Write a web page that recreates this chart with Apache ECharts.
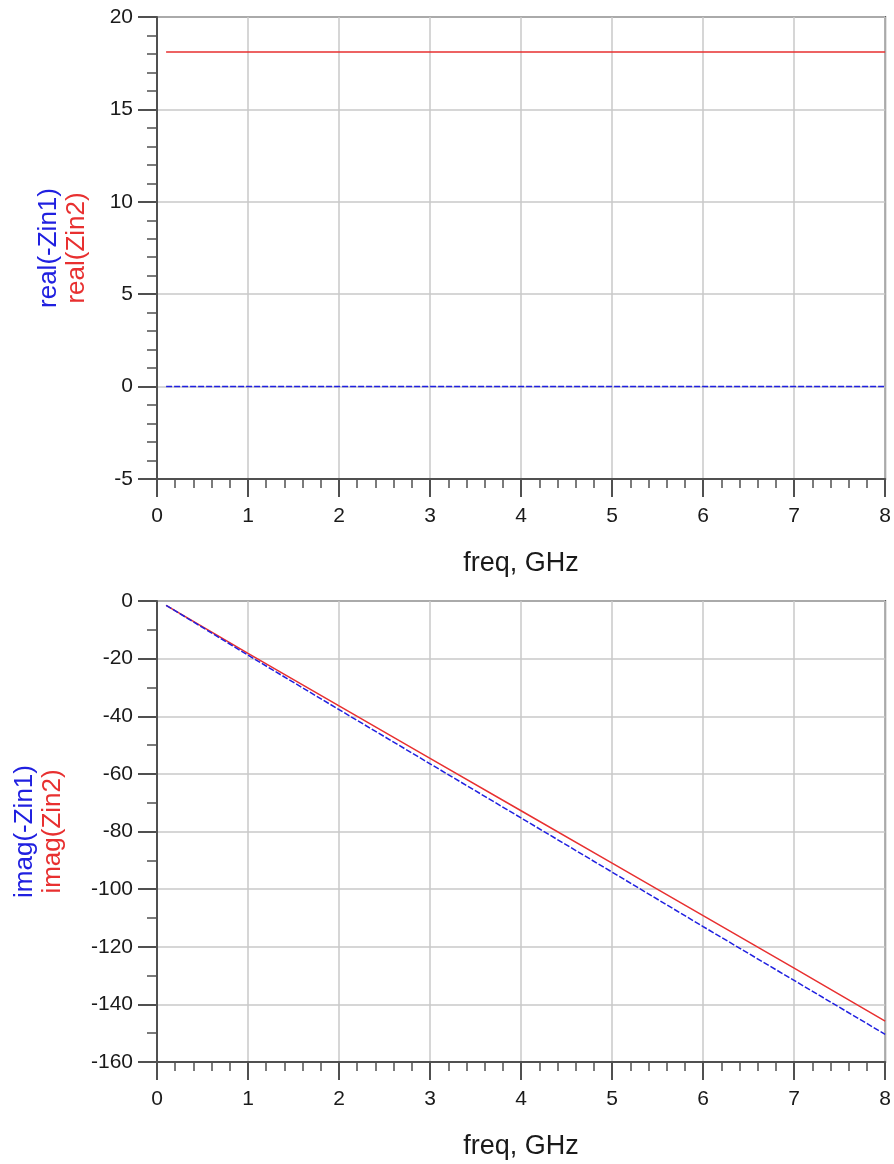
<!DOCTYPE html>
<html>
<head>
<meta charset="utf-8">
<script src="https://cdn.jsdelivr.net/npm/echarts@6/dist/echarts.min.js"></script>
<style>
  html, body { margin: 0; padding: 0; background: #fff; }
  #main { width: 894px; height: 1164px; }
</style>
</head>
<body>
<div id="main"></div>
<script>
// data
const freq = [0.1, 1, 2, 3, 4, 5, 6, 7, 8];
const realZin1 = [0, 0, 0, 0, 0, 0, 0, 0, 0];          // real(-Zin1)
const realZin2 = [18.1, 18.1, 18.1, 18.1, 18.1, 18.1, 18.1, 18.1, 18.1]; // real(Zin2)
const imagZin1 = [-1.5, -18.8, -37.7, -56.5, -75.3, -94.1, -113.0, -131.7, -150.4];
const imagZin2 = [-1.5, -18.2, -36.4, -54.6, -72.8, -91.0, -109.2, -127.4, -145.8];
const xTicks = { min: 0, max: 8, interval: 1 };
const topY = { min: -5, max: 20, interval: 5 };
const botY = { min: -160, max: 0, interval: 20 };

const pairs = (xs, ys) => xs.map((x, i) => [x, ys[i]]);

const font = 'Liberation Sans, Arial, sans-serif';
const axisCol = '#505050';
const gridCol = '#c8c8c8';
const blue = '#2020e0';
const red = '#e83030';

function xAxis(idx) {
  return {
    gridIndex: idx, type: 'value',
    min: xTicks.min, max: xTicks.max, interval: xTicks.interval,
    name: 'freq, GHz', nameLocation: 'middle', nameGap: 71,
    nameTextStyle: { fontFamily: font, fontSize: 27, color: '#1a1a1a' },
    axisLine: { show: true, onZero: false, lineStyle: { color: axisCol, width: 2 } },
    axisTick: { show: true, length: 18, lineStyle: { color: axisCol, width: 2 } },
    minorTick: { show: true, splitNumber: 5, length: 9, lineStyle: { color: axisCol, width: 1.5 } },
    axisLabel: { fontFamily: font, fontSize: 21, color: '#1a1a1a', margin: 27 },
    splitLine: { show: true, lineStyle: { color: gridCol, width: 1.5 } }
  };
}

function yAxis(idx, rng, minorSplit, l1, l2, gap) {
  return {
    gridIndex: idx, type: 'value',
    min: rng.min, max: rng.max, interval: rng.interval,
    name: '{b|' + l1 + '}\n{r|' + l2 + '}',
    nameLocation: 'middle', nameGap: gap, nameRotate: 90, nameMoveOverlap: false,
    nameTextStyle: {
      fontFamily: font, fontSize: 26, lineHeight: 28,
      rich: {
        b: { color: blue, fontFamily: font, fontSize: 26, lineHeight: 28 },
        r: { color: red, fontFamily: font, fontSize: 26, lineHeight: 28 }
      }
    },
    axisLine: { show: true, onZero: false, lineStyle: { color: axisCol, width: 2 } },
    axisTick: { show: true, length: 19, lineStyle: { color: axisCol, width: 2 } },
    minorTick: { show: true, splitNumber: minorSplit, length: 10, lineStyle: { color: axisCol, width: 1.5 } },
    axisLabel: { fontFamily: font, fontSize: 21, color: '#1a1a1a', margin: 24 },
    splitLine: { show: true, lineStyle: { color: gridCol, width: 1.5 } }
  };
}

const chart = echarts.init(document.getElementById('main'));
chart.setOption({
  animation: false,
  backgroundColor: '#fff',
  grid: [
    { left: 157, top: 17, width: 730, height: 462, show: true, borderColor: axisCol, borderWidth: 2 },
    { left: 157, top: 601, width: 730, height: 461, show: true, borderColor: axisCol, borderWidth: 2 }
  ],
  xAxis: [xAxis(0), xAxis(1)],
  yAxis: [
    yAxis(0, topY, 5, 'real(-Zin1)', 'real(Zin2)', 66),
    yAxis(1, botY, 2, 'imag(-Zin1)', 'imag(Zin2)', 90)
  ],
  series: [
    { type: 'line', xAxisIndex: 0, yAxisIndex: 0, data: pairs(freq, realZin2), symbol: 'none',
      lineStyle: { color: red, width: 1.5 } },
    { type: 'line', xAxisIndex: 0, yAxisIndex: 0, data: pairs(freq, realZin1), symbol: 'none',
      lineStyle: { color: blue, width: 1.5, type: [6, 2] } },
    { type: 'line', xAxisIndex: 1, yAxisIndex: 1, data: pairs(freq, imagZin2), symbol: 'none',
      lineStyle: { color: red, width: 1.5 } },
    { type: 'line', xAxisIndex: 1, yAxisIndex: 1, data: pairs(freq, imagZin1), symbol: 'none',
      lineStyle: { color: blue, width: 1.5, type: [6, 2] } }
  ]
});
</script>
</body>
</html>
